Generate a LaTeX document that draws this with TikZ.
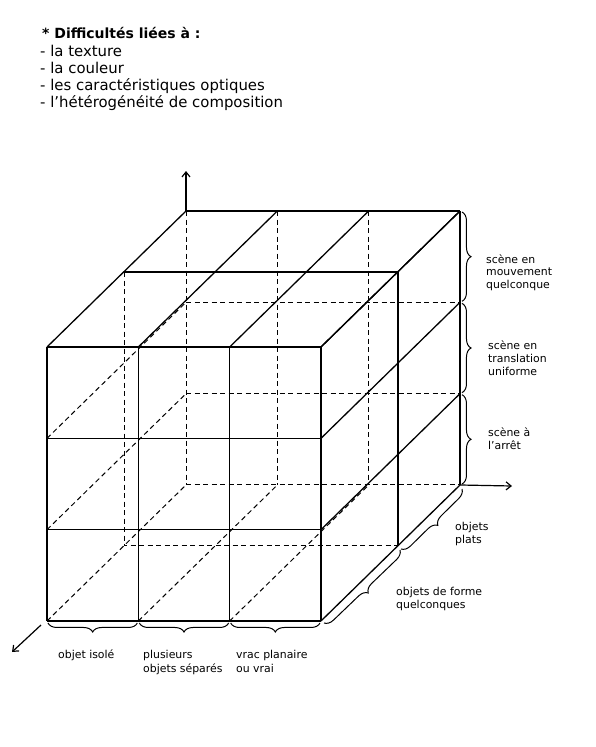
\documentclass[tikz,border=0pt]{standalone}
\usepackage{fontspec}
\setmainfont{DejaVu Sans}
\usetikzlibrary{decorations.pathreplacing,arrows.meta,calc}
\begin{document}
\begin{tikzpicture}[x=1pt,y=-1pt,
  edge/.style={line width=1.3pt},
  hidden/.style={line width=1pt, dash pattern=on 5pt off 3.5pt},
  brc/.style={line width=1pt, decorate, decoration={brace, amplitude=9pt}},
  axis/.style={line width=1.2pt, -{Straight Barb[length=5pt,width=8pt]}},
  lbl/.style={font=\fontsize{10.9}{13}\selectfont, align=left, anchor=base west, inner sep=0pt},
  body/.style={font=\fontsize{14.9}{17.2}\selectfont, align=left, anchor=base west, inner sep=0pt}]
\useasboundingbox (0,0) rectangle (596,747);

% grid coordinates: front (f), middle depth (m), back (b)
\foreach \i in {0,...,3}{
  \foreach \j in {0,...,3}{
    \coordinate (f\i\j) at ({47+91.33*\i},{347+91.33*\j});
    \coordinate (m\i\j) at ({124+91.33*\i},{272+91.33*\j});
    \coordinate (b\i\j) at ({186+91.33*\i},{211+91.33*\j});
  }
}

% hidden lines
\foreach \i in {0,1,2} \draw[hidden] (b\i0) -- (b\i3);
\foreach \j in {1,2,3} \draw[hidden] (b0\j) -- (b3\j);
\draw[hidden] (m00) -- (m03) -- (m33);
\foreach \j in {1,2,3} \draw[hidden] (f0\j) -- (b0\j);
\foreach \i in {1,2} \draw[hidden] (f\i3) -- (b\i3);

% visible edges
\foreach \i in {0,...,3} \draw[edge] (f\i0) -- (f\i3);
\foreach \j in {0,...,3} \draw[edge] (f0\j) -- (f3\j);
\foreach \i in {0,...,3} \draw[edge] (f\i0) -- (b\i0);
\draw[edge] (m00) -- (m30);
\draw[edge] (b00) -- (b30);
\foreach \j in {0,...,3} \draw[edge] (f3\j) -- (b3\j);
\draw[edge] (m30) -- (m33);
\draw[edge] (b30) -- (b33);

% axes
\coordinate (zt) at (186,171);
\coordinate (xt) at (512,486);
\coordinate (ys) at (41,625);
\coordinate (ye) at (12,652);
\draw[axis] (b00) -- (zt);
\draw[axis] (b33) -- (xt);
\draw[axis] (ys) -- (ye);

% braces
\draw[brc] ($(f13)+(-1,2)$) -- ($(f03)+(1,2)$);
\draw[brc] ($(f23)+(-1,2)$) -- ($(f13)+(1,2)$);
\draw[brc] ($(f33)+(-1,2)$) -- ($(f23)+(1,2)$);
\draw[brc] ($(b30)+(2,1)$) -- ($(b31)+(2,-1)$);
\draw[brc] ($(b31)+(2,1)$) -- ($(b32)+(2,-1)$);
\draw[brc] ($(b32)+(2,1)$) -- ($(b33)+(2,-1)$);
\draw[brc] ($(b33)+(2,4)$) -- ($(m33)+(3,3)$);
\draw[brc] ($(m33)+(2,4)$) -- ($(f33)+(3,2)$);

% texts
\node[body, font=\bfseries\fontsize{14}{17}\selectfont] (title) at (42,38) {* Difficultés liées à :};
\node[body] (t1) at (40,56) {- la texture};
\node[body] (t2) at (40,73.2) {- la couleur};
\node[body] (t3) at (40,90.4) {- les caractéristiques optiques};
\node[body] (t4) at (40,107.6) {- l'hétérogénéité de composition};

% multi-line labels: anchor is at the baseline of the last line
\node[lbl, font=\fontsize{10.9}{12.5}\selectfont] (s3) at (486,288) {scène en\\mouvement\\quelconque};
\node[lbl] (s2) at (488,375) {scène en\\translation\\uniforme};
\node[lbl] (s1) at (488,449) {scène à\\l'arrêt};
\node[lbl] (op) at (455,543) {objets\\plats};
\node[lbl] (oq) at (396,608) {objets de forme\\quelconques};
\node[lbl] (c1) at (58,658) {objet isolé};
\node[lbl, font=\fontsize{10.9}{14}\selectfont] (c2) at (143,672) {plusieurs\\objets séparés};
\node[lbl, font=\fontsize{10.9}{14}\selectfont] (c3) at (236,672) {vrac planaire\\ou vrai};
\end{tikzpicture}
\end{document}
